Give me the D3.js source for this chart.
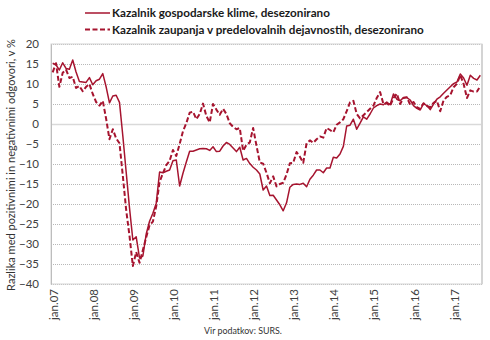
<!DOCTYPE html>
<html>
<head>
<meta charset="utf-8">
<script src="https://cdn.jsdelivr.net/npm/d3@7"></script>
<style>
  body { margin: 0; background: #fff; }
  svg { display: block; }
  text { font-family: Lato, "Open Sans", "Liberation Sans", sans-serif; }
</style>
</head>
<body>
<svg id="chart" width="490" height="340"></svg>
<script>
// Monthly categories, January 2007 to September 2017
const months = d3.timeMonth.range(new Date(2007, 0, 1), new Date(2017, 9, 1));

// Tick labels on the category axis (one per January)
const xTickLabels = ["jan.07", "jan.08", "jan.09", "jan.10", "jan.11", "jan.12",
                     "jan.13", "jan.14", "jan.15", "jan.16", "jan.17"];

// Value axis ticks
const yTicks = [20, 15, 10, 5, 0, -5, -10, -15, -20, -25, -30, -35, -40];

// Series names
const seriesNames = [
  "Kazalnik gospodarske klime, desezonirano",
  "Kazalnik zaupanja v predelovalnih dejavnostih, desezonirano"
];

// Kazalnik gospodarske klime, desezonirano (balance, %)
const gospodarskaKlima = [
  15.2, 14.8, 13.5, 15.3, 13.9, 13.7, 16.0, 13.0, 10.6, 10.5, 10.4, 11.6,
   9.8, 10.8, 11.2, 12.6,  9.3,  5.3,  7.0,  7.2,  5.4, -3.0, -12.0, -21.0,
 -29.0, -28.2, -33.5, -33.0, -27.5, -24.3, -22.3, -19.8, -12.0, -12.2, -11.8, -11.5,
  -9.2, -9.0, -15.5, -12.3, -9.5, -6.8, -6.8, -6.5, -6.2, -6.1, -6.2, -6.6,
  -5.7, -6.9, -6.8, -5.5, -4.6, -5.1, -6.0, -6.9, -5.8, -9.0, -8.6, -9.9,
 -10.8, -11.5, -12.5, -16.5, -15.5, -17.9, -17.8, -19.0, -20.2, -21.7, -19.7, -15.8,
 -15.1, -15.0, -15.1, -14.8, -15.7, -13.8, -12.8, -11.5, -11.5, -12.2, -11.0, -11.0,
  -8.3, -8.5, -7.5, -5.6, -0.5, -0.3,  1.2, -1.3,  0.2,  1.8,  1.2,  2.5,
   4.0,  4.6,  5.0,  4.8,  5.5,  4.8,  7.5,  6.2,  5.8,  6.6,  6.6,  6.0,
   4.6,  3.9,  3.5,  5.1,  4.6,  3.6,  5.0,  6.2,  6.8,  7.7,  8.5,  9.3,
  10.1, 10.5, 12.5, 11.5,  9.7, 12.2, 11.4, 11.0, 12.2
];

// Kazalnik zaupanja v predelovalnih dejavnostih, desezonirano (balance, %)
const predelovalneDejavnosti = [
  12.9, 15.2,  9.3, 12.8, 13.6, 11.5, 11.8,  9.0,  9.5,  8.2,  9.3, 10.0,
   7.5,  5.5,  4.6,  5.8,  1.3, -3.8, -1.3, -3.6, -4.8, -13.0, -21.5, -28.0,
 -35.5, -32.0, -34.7, -31.5, -28.3, -25.3, -24.4, -20.5, -14.5, -12.3, -10.3, -9.2,
  -6.5, -8.0, -5.0, -1.8,  0.2,  2.8,  3.1,  1.2,  2.5,  5.1,  2.0,  0.4,
   5.0,  3.6,  2.3,  3.8,  2.5,  0.2, -0.7, -1.3, -1.0, -6.7, -5.2, -4.6,
  -1.0, -5.4, -9.6, -9.9, -12.2, -14.8, -13.1, -15.6, -15.0, -14.7, -12.6, -9.8,
  -9.7, -7.0, -8.2, -9.7, -4.8, -4.1, -4.7, -3.8, -3.1, -3.4, -1.0, -1.5,
  -2.1, -0.2,  0.4,  1.2,  3.2,  5.4,  5.8,  2.5,  1.4,  2.2,  3.0,  3.8,
   4.6,  6.5,  8.0,  5.0,  5.2,  4.5,  6.5,  7.6,  5.0,  6.5,  6.7,  4.8,
   5.5,  4.2,  3.8,  5.2,  4.5,  4.2,  5.3,  5.8,  3.2,  5.9,  6.8,  7.2,
   9.2, 10.1, 12.2, 10.0,  6.5,  8.4,  8.1,  8.1,  9.5
];

const lineColor = "#a6142f";
const svg = d3.select("#chart");

const plot = { left: 51, right: 482, top: 44, bottom: 284 };

const x = d3.scaleBand()
  .domain(months.map((d, i) => i))
  .range([plot.left, plot.right]);

const y = d3.scaleLinear()
  .domain([-40, 20])
  .range([plot.bottom, plot.top]);

const xc = i => x(i) + x.bandwidth() / 2;

// Horizontal gridlines
const grid = svg.append("g")
  .attr("transform", `translate(${plot.left},0)`)
  .call(d3.axisLeft(y).tickValues(yTicks).tickSize(-(plot.right - plot.left)).tickFormat(""));
grid.select(".domain").remove();
grid.selectAll(".tick line")
  .attr("stroke", "#b8b8b8")
  .attr("stroke-width", 1)
  .attr("stroke-dasharray", "1,1");
grid.selectAll(".tick").filter(d => d === 0).select("line")
  .attr("stroke", "#d9d9d9")
  .attr("stroke-width", 1.6)
  .attr("stroke-dasharray", null);

// Plot area frame
svg.append("rect")
  .attr("x", plot.left).attr("y", plot.top)
  .attr("width", plot.right - plot.left).attr("height", plot.bottom - plot.top)
  .attr("fill", "none").attr("stroke", "#d4d4d4").attr("stroke-width", 1);
svg.append("line")
  .attr("x1", plot.right).attr("x2", plot.right)
  .attr("y1", plot.top).attr("y2", plot.bottom)
  .attr("stroke", "#d4d4d4").attr("stroke-width", 2);

// Value axis labels
const yAxis = svg.append("g")
  .attr("transform", `translate(${plot.left},0)`)
  .call(d3.axisLeft(y).tickValues(yTicks).tickSize(0).tickPadding(12));
yAxis.select(".domain").attr("stroke", "#bdbdbd");
yAxis.selectAll("text")
  .attr("fill", "#404040")
  .style("font-size", "11.5px");

// Category axis labels
const januaryIdx = months.map((d, i) => i).filter(i => months[i].getMonth() === 0);
const xAxis = svg.append("g")
  .attr("transform", `translate(0,${plot.bottom})`)
  .call(d3.axisBottom(x).tickValues(januaryIdx).tickSize(0)
    .tickFormat((d, k) => xTickLabels[k]));
xAxis.select(".domain").remove();
xAxis.selectAll("text")
  .attr("fill", "#404040")
  .style("font-size", "11.5px")
  .attr("text-anchor", "end")
  .attr("transform", "rotate(-90)")
  .attr("x", -5)
  .attr("y", 1)
  .attr("dy", "0.35em");

// Series lines
const line = data => d3.line()
  .x((d, i) => xc(i))
  .y(d => y(d))(data);

svg.append("path")
  .attr("d", line(gospodarskaKlima))
  .attr("fill", "none")
  .attr("stroke", lineColor)
  .attr("stroke-width", 1.5)
  .attr("stroke-linejoin", "round");

svg.append("path")
  .attr("d", line(predelovalneDejavnosti))
  .attr("fill", "none")
  .attr("stroke", lineColor)
  .attr("stroke-width", 2)
  .attr("stroke-dasharray", "5,2.5")
  .attr("stroke-linejoin", "round");

// Legend
const legend = svg.append("g");
const legendRows = [
  { name: seriesNames[0], y: 13, dash: null, width: 1.5, textWidth: 218 },
  { name: seriesNames[1], y: 29.5, dash: "5,2.5", width: 2, textWidth: 312 }
];
legendRows.forEach(r => {
  legend.append("line")
    .attr("x1", 85).attr("x2", 110).attr("y1", r.y).attr("y2", r.y)
    .attr("stroke", lineColor).attr("stroke-width", r.width)
    .attr("stroke-dasharray", r.dash);
  const t = legend.append("text")
    .attr("x", 112).attr("y", r.y).attr("dy", "0.35em")
    .attr("fill", "#1a1a1a")
    .style("font-weight", "bold")
    .style("font-size", "12px")
    .text(r.name);
  const w = t.node().getComputedTextLength();
  t.style("font-size", (12 * r.textWidth / w).toFixed(2) + "px");
});

// Value axis title
const yTitle = svg.append("text")
  .attr("transform", "translate(11,165) rotate(-90)")
  .attr("text-anchor", "middle")
  .attr("dy", "0.35em")
  .attr("fill", "#333")
  .style("font-size", "11px")
  .text("Razlika med pozitivnimi in negativnimi odgovori, v %");
{
  const w = yTitle.node().getComputedTextLength();
  yTitle.style("font-size", (11 * 252 / w).toFixed(2) + "px");
}

// Source note
const source = svg.append("text")
  .attr("x", 243).attr("y", 334)
  .attr("text-anchor", "middle")
  .attr("fill", "#333")
  .style("font-size", "10px")
  .text("Vir podatkov: SURS.");
{
  const w = source.node().getComputedTextLength();
  source.style("font-size", (10 * 78 / w).toFixed(2) + "px");
}
</script>
</body>
</html>
